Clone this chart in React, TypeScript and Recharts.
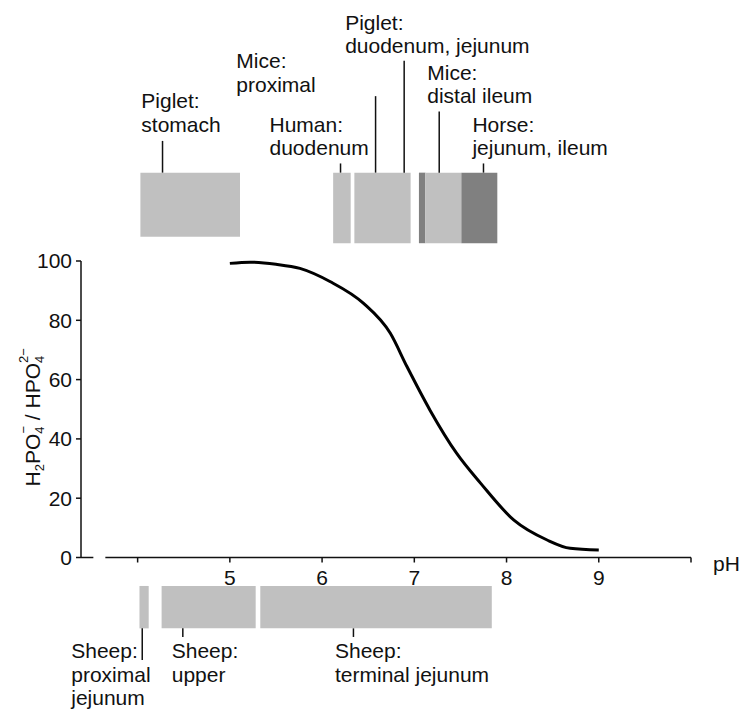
import { LineChart, Line, XAxis, YAxis, ReferenceArea, ReferenceLine, ReferenceDot } from "recharts"

// Titration curve: share of H2PO4- relative to HPO4 2- over pH
const phPoints = [5.0, 5.22, 5.5, 5.76, 6.09, 6.45, 6.74, 6.92, 7.17, 7.46, 7.72, 8.08, 8.44, 8.69, 9.0]
const ratioPoints = [99.2, 99.6, 98.9, 97.5, 93.0, 85.7, 75.6, 64.4, 49.7, 35.1, 25.0, 12.6, 5.9, 3.1, 2.5]

// Gut pH ranges shown as bands above the curve
const upperFrom = [4.03, 6.12, 6.35, 7.05, 7.12, 7.51]
const upperTo = [5.11, 6.31, 6.96, 7.12, 7.51, 7.9]
const upperDark = [false, false, false, true, false, true]
const upperNames = [
  ["Piglet:", "stomach"],
  ["Mice:", "proximal"],
  ["Human:", "duodenum"],
  ["Piglet:", "duodenum, jejunum"],
  ["Mice:", "distal ileum"],
  ["Horse:", "jejunum, ileum"],
]
const upperPointers = [4.27, 6.58, 6.2, 6.89, 7.27, 7.75]

// ...and below the axis
const lowerFrom = [4.02, 4.26, 5.33]
const lowerTo = [4.12, 5.28, 7.84]
const lowerNames = [
  ["Sheep:", "proximal", "jejunum"],
  ["Sheep:", "upper"],
  ["Sheep:", "terminal jejunum"],
]
const lowerPointers = [4.05, 4.49, 6.34]

const xTicks = [4, 5, 6, 7, 8, 9, 10]
const yTicks = [0, 20, 40, 60, 80, 100]

const data = phPoints.map((ph, i) => ({ ph, ratio: ratioPoints[i] }))

const FONT = '"Liberation Sans", Arial, Helvetica, sans-serif'
const INK = "#111"
const LIGHT = "#c0c0c0"
const DARK = "#808080"
const X_DOMAIN: [number, number] = [3.386, 10]

// band placement, in the chart's y units (outside the 0-100 range)
const upperBandTop = 129.8
const upperBandBottom = [108.2, 106, 106, 106, 106, 106]
const upperPointerTop = [140.5, 155.6, 132.9, 167.5, 150.4, 132.9]
const upperLabelAt = [
  [4.04, 151.5],
  [5.07, 165.0],
  [5.43, 143.6],
  [6.25, 177.9],
  [7.14, 161.0],
  [7.63, 143.6],
]
const lowerBandTop = -9.6
const lowerBandBottom = -23.9
const lowerPointerEnd = [-34.6, -26.8, -26.8]
const lowerLabelAt = [
  [3.28, -34.0],
  [4.37, -34.0],
  [6.14, -34.0],
]

const stacked = (lines: string[]) => (props: any) => {
  const { x, y } = props.viewBox
  return (
    <text x={x} y={y} fill={INK} fontSize={21} fontFamily={FONT}>
      {lines.map((line, i) => (
        <tspan key={i} x={x} dy={i === 0 ? 0 : 23.3}>
          {line}
        </tspan>
      ))}
    </text>
  )
}

const yTitle = (props: any) => {
  const { x, y, width, height } = props.viewBox
  const cx = x + width - 41
  const cy = y + height / 2 + 8
  return (
    <text
      x={cx}
      y={cy}
      transform={`rotate(-90 ${cx} ${cy})`}
      textAnchor="middle"
      fill={INK}
      fontSize={21}
      fontFamily={FONT}
    >
      H
      <tspan dy={4} fontSize={13}>2</tspan>
      <tspan dy={-4}>PO</tspan>
      <tspan dy={4} fontSize={13}>4</tspan>
      <tspan dx={-7.2} dy={-16} fontSize={13}>−</tspan>
      <tspan dy={12}> / HPO</tspan>
      <tspan dy={4} fontSize={13}>4</tspan>
      <tspan dx={-7.2} dy={-16} fontSize={13}>2−</tspan>
    </text>
  )
}

const xTitle = (props: any) => {
  const { x, y, width } = props.viewBox
  return (
    <text x={x + width + 22} y={y + 13} fill={INK} fontSize={21} fontFamily={FONT}>
      pH
    </text>
  )
}

export default function App() {
  return (
    <div style={{ position: "absolute", left: 0, top: 0, background: "#fff" }}>
      <LineChart width={742} height={713} data={data} margin={{ top: 261, right: 51, left: 41, bottom: 125.5 }}>
        <XAxis
          dataKey="ph"
          type="number"
          domain={X_DOMAIN}
          ticks={xTicks}
          interval={0}
          height={30}
          axisLine={false}
          tickLine={{ stroke: INK, strokeWidth: 1.5 }}
          tickSize={5}
          tickMargin={7.5}
          tick={{ fill: INK, fontSize: 21, fontFamily: FONT }}
          tickFormatter={(v) => (v === 4 || v === 10 ? "" : String(v))}
          label={xTitle}
        />
        <YAxis
          type="number"
          domain={[0, 100]}
          ticks={yTicks}
          interval={0}
          width={40}
          axisLine={{ stroke: INK, strokeWidth: 1.5 }}
          tickLine={{ stroke: INK, strokeWidth: 1.5 }}
          tickSize={5}
          tickMargin={4}
          tick={{ fill: INK, fontSize: 21, fontFamily: FONT }}
          label={yTitle}
        />

        {/* x axis line starts a little away from the y axis */}
        <ReferenceLine
          segment={[{ x: X_DOMAIN[0], y: 0 }, { x: 3.52, y: 0 }]}
          stroke={INK}
          strokeWidth={1.5}
          ifOverflow="visible"
        />
        <ReferenceLine
          segment={[{ x: 3.65, y: 0 }, { x: 10, y: 0 }]}
          stroke={INK}
          strokeWidth={1.5}
          ifOverflow="visible"
        />

        {upperFrom.map((from, i) => (
          <ReferenceArea
            key={`ub${i}`}
            x1={from}
            x2={upperTo[i]}
            y1={upperBandBottom[i]}
            y2={upperBandTop}
            fill={upperDark[i] ? DARK : LIGHT}
            fillOpacity={1}
            stroke="none"
            ifOverflow="visible"
          />
        ))}
        {upperPointers.map((ph, i) => (
          <ReferenceLine
            key={`up${i}`}
            segment={[{ x: ph, y: upperBandTop }, { x: ph, y: upperPointerTop[i] }]}
            stroke={INK}
            strokeWidth={1.5}
            ifOverflow="visible"
          />
        ))}
        {upperNames.map((lines, i) => (
          <ReferenceDot
            key={`ul${i}`}
            x={upperLabelAt[i][0]}
            y={upperLabelAt[i][1]}
            r={0}
            fill="none"
            stroke="none"
            ifOverflow="visible"
            label={stacked(lines)}
          />
        ))}

        {lowerFrom.map((from, i) => (
          <ReferenceArea
            key={`lb${i}`}
            x1={from}
            x2={lowerTo[i]}
            y1={lowerBandBottom}
            y2={lowerBandTop}
            fill={LIGHT}
            fillOpacity={1}
            stroke="none"
            ifOverflow="visible"
          />
        ))}
        {lowerPointers.map((ph, i) => (
          <ReferenceLine
            key={`lp${i}`}
            segment={[{ x: ph, y: lowerBandBottom }, { x: ph, y: lowerPointerEnd[i] }]}
            stroke={INK}
            strokeWidth={1.5}
            ifOverflow="visible"
          />
        ))}
        {lowerNames.map((lines, i) => (
          <ReferenceDot
            key={`ll${i}`}
            x={lowerLabelAt[i][0]}
            y={lowerLabelAt[i][1]}
            r={0}
            fill="none"
            stroke="none"
            ifOverflow="visible"
            label={stacked(lines)}
          />
        ))}

        <Line
          type="monotone"
          dataKey="ratio"
          stroke="#000"
          strokeWidth={3}
          dot={false}
          activeDot={false}
          isAnimationActive={false}
        />
      </LineChart>
    </div>
  )
}
